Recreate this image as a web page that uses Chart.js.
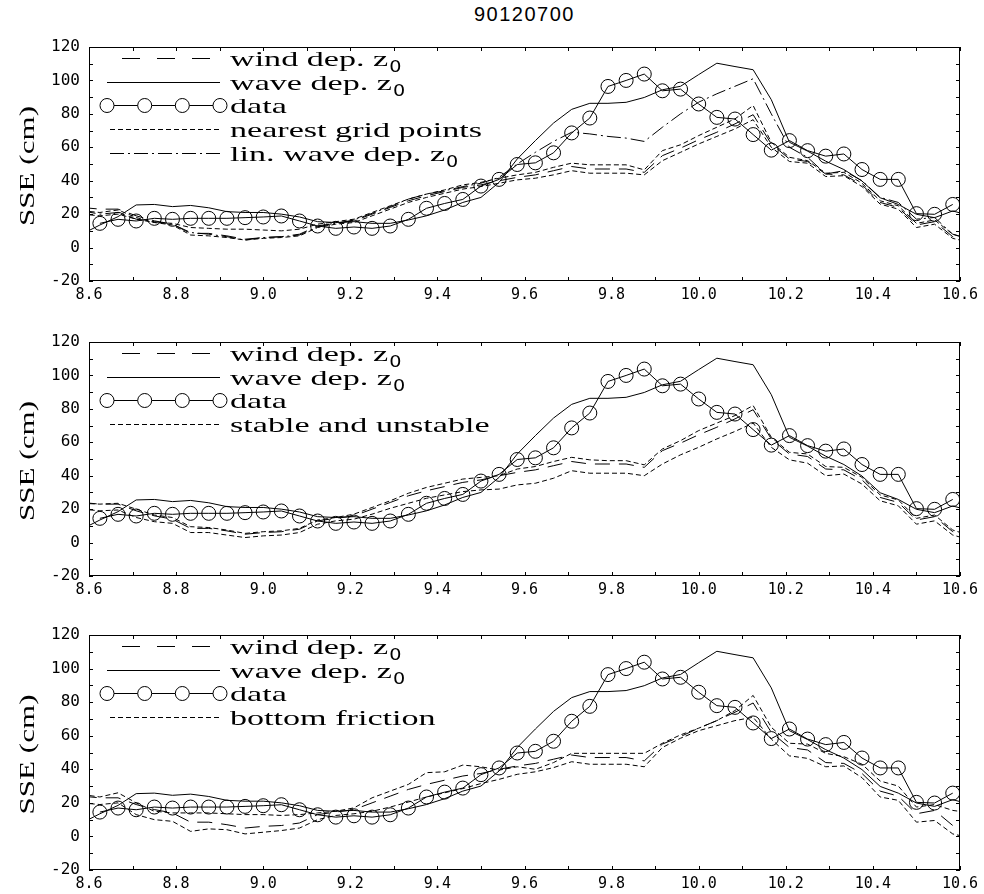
<!DOCTYPE html>
<html lang="en">
<head>
<meta charset="UTF-8">
<title>90120700</title>
<script src="https://cdn.jsdelivr.net/npm/chart.js"></script>
<style>
    body {
        margin: 0;
        background: #fff;
        width: 984px;
        height: 894px;
        overflow: hidden;
        position: relative;
    }
    #title {
        position: absolute;
        left: 89px;
        width: 871px;
        top: 3px;
        text-align: center;
        font: 20px 'Liberation Sans', sans-serif;
        letter-spacing: 1.5px;
        color: #000;
    }
    canvas {
        position: absolute;
        left: 0;
    }
</style>
</head>
<body>
<div id="title">90120700</div>
<canvas id="c1" width="984" height="300" style="top:0px"></canvas>
<canvas id="c2" width="984" height="300" style="top:295px"></canvas>
<canvas id="c3" width="984" height="306" style="top:588px"></canvas>

<script>
// hourly model output, first value just left of the frame (8.583 .. 10.625)
const firstHour = 8 + 14 / 24;
const modelTimes = [];
for (let i = 0; i < 50; i++) modelTimes.push(firstHour + i / 24);
const dataTimes = modelTimes.slice(1, 49);

const xTicks = { min: 8.6, max: 10.6, step: 0.2 };
const yTicks = { min: -20, max: 120, step: 20 };

// observed surge (circles)
const observed = [14.5, 16.9, 15.9, 17.5, 16.9, 17.5, 17.5, 17.5, 17.9, 18.3, 18.9, 15.9,
    12.9, 11.5, 12.3, 11.5, 12.9, 16.9, 23.5, 26.4, 28.8, 36.8, 40.8, 49.7,
    50.7, 56.7, 68.6, 77.5, 96.4, 100, 103.8, 93.8, 94.8, 85.9, 77.9, 76.9,
    67.6, 58.3, 64, 58, 54.7, 56, 46.7, 40.8, 40.8, 20.3, 19.9, 25.8];

// runs shared by all three panels
const windDep = [24, 23, 23, 19, 16, 14, 8.5, 8.5, 7, 5, 6, 6.5, 8, 13, 14.5, 16, 20, 24,
    28, 31, 33.5, 36, 37.5, 40, 42, 43.5, 46, 48.5, 47, 47, 47, 45, 55, 59.5, 64.5, 69,
    74, 79.5, 62, 53, 51.5, 44, 43.5, 37.5, 27, 24, 13.5, 15.5, 6.5, 3];
const waveDep = [8, 13.5, 18.5, 25.5, 25.8, 24.5, 25.2, 23.8, 21.5, 21, 21, 20, 18.3, 15.5,
    15, 15.5, 14.5, 14.5, 16.5, 19, 22.5, 27, 30, 39, 53, 64, 74.5, 82.7, 86.3, 86.3,
    86.9, 89.8, 94.4, 96.5, 103.5, 110.3, 108.3, 106.4, 88.5, 63, 57.7, 51.7, 46.7, 39.8,
    29.8, 25.8, 19.9, 17.9, 21.9, 19];

// panel 1
const nearestA = [22, 21, 22.5, 18, 15, 14.5, 12, 11.5, 11, 11, 10.5, 10, 11, 14, 15.5, 17,
    21, 25, 29, 32, 34.5, 37.5, 39, 41.5, 43.5, 45, 48, 50.5, 49.5, 49.5, 49.5, 46.5, 58,
    61.5, 67, 72, 77, 85, 63, 54, 52, 44.5, 45, 38.5, 28, 25, 14.5, 16.5, 8, 4.5];
const nearestB = [20, 19, 20, 17, 15, 13.5, 7.5, 7, 6, 4.5, 5.5, 6, 7, 12, 14, 15, 19, 23,
    27, 30, 32.5, 35, 36.5, 38.5, 40.5, 41.5, 43.5, 46, 44.5, 44.5, 44.5, 43.5, 52, 57, 62,
    66.5, 71, 76.5, 60, 51.5, 50.5, 42.5, 43, 36.5, 26, 23, 12, 14, 5.5, 3];
const linWaveDep = [22, 20, 21, 17, 15.5, 14, 9, 8, 6.5, 4.5, 6, 6.5, 7.5, 12.5, 14.5, 16.5,
    20.5, 24.5, 29, 32, 34, 36.5, 38.5, 42, 50, 57, 63.5, 69, 68, 66.5, 65.5, 63.5, 72, 80,
    87, 92, 96.5, 101, 80, 60, 54, 44, 46, 40, 30, 27, 17, 18, 8, 5];

// panel 2
const stableRun = [23.5, 23, 23.5, 20, 16.5, 15, 9.5, 9, 7.5, 5.5, 6.5, 7, 8.5, 13.5, 15, 17,
    21, 25, 29.5, 33, 35.5, 38, 39, 40, 44, 45.5, 48.5, 51, 49.5, 49, 49, 46.5, 56, 61, 67,
    71.5, 76, 82, 63, 54, 53, 45.5, 45, 39, 28.5, 25.5, 14.5, 16.5, 7.5, 4];
const unstableRun = [20, 19, 19.5, 15, 12.5, 11.5, 6, 6, 4.5, 3, 4, 4.5, 6, 11, 13, 14, 17,
    20.5, 23.5, 26.5, 28.5, 30.5, 31.5, 32, 34.5, 35.5, 38.5, 43, 41.5, 41.5, 41.5, 40, 47,
    52.5, 57, 62, 66.5, 71.5, 57, 49.5, 47.5, 40, 41, 35, 25, 22, 11, 13, 4.5, 1.5];

// panel 3
const frictionA = [25, 23.5, 26, 20, 15, 14, 14, 14, 13.5, 13, 13, 12.5, 13, 14, 15, 17, 23,
    27, 31, 38, 38.5, 42.5, 41.5, 39.5, 41.5, 40, 44, 49.5, 49.5, 49.5, 49.5, 49.5, 55.5,
    60.5, 64.5, 69, 75, 84, 65, 55.5, 55, 49.5, 47.5, 43, 33, 30, 17.5, 19, 15.5, 14];
const frictionB = [20, 19, 20, 13, 10, 9, 3, 4.5, 4, 1.5, 2.5, 3.5, 5, 10, 12.5, 13.5, 15,
    17.5, 20.5, 23.5, 26, 28.5, 31.5, 34, 37, 38.5, 41, 44.5, 43, 43, 43, 41.5, 53, 58.5,
    63, 66, 69, 71, 58, 48, 46.5, 41.5, 42, 35, 23.5, 21.5, 8.5, 9.5, 1.5, -1];

const LONG_DASH = [15, 9];
const SHORT_DASH = [5, 3];
const DASH_DOT = [14, 4, 2, 4];

const SERIF = '22px "Liberation Serif", serif';

function xy(times, vals) {
    return vals.map((v, i) => ({ x: times[i], y: v }));
}

function modelSet(label, vals, dash, legendDash) {
    return {
        label: label,
        data: xy(modelTimes, vals),
        borderColor: '#000',
        borderWidth: 1,
        borderDash: dash,
        legendDash: legendDash || dash,
        pointRadius: 0
    };
}

function baseSets() {
    return [
        modelSet('wind dep. z₀', windDep, LONG_DASH, [18, 17]),
        modelSet('wave dep. z₀', waveDep, []),
        {
            label: 'data',
            data: xy(dataTimes, observed),
            borderColor: '#000',
            borderWidth: 1,
            pointStyle: 'circle',
            pointRadius: 7,
            pointBorderWidth: 1,
            pointBorderColor: '#000',
            pointBackgroundColor: 'rgba(0,0,0,0)',
            isData: true
        }
    ];
}

// the plot fonts are stretched sideways; fit a known string to its width
function stretchFor(ctx, font, sample, width) {
    ctx.save();
    ctx.font = font;
    const w = ctx.measureText(sample).width;
    ctx.restore();
    return width / w;
}

function wideText(ctx, text, x, y, sx) {
    ctx.save();
    ctx.translate(x, y);
    ctx.scale(sx, 1);
    ctx.fillText(text, 0, 0);
    ctx.restore();
    return ctx.measureText(text).width * sx;
}

function drawLabel(ctx, label, x, y, sx) {
    const parts = label.split('₀');
    let cx = x;
    parts.forEach((p, k) => {
        ctx.font = SERIF;
        cx += wideText(ctx, p, cx, y, sx);
        if (k < parts.length - 1) {
            ctx.font = '16px "DejaVu Sans", sans-serif';
            cx += wideText(ctx, '0', cx + 1, y + 6, 1.2) + 1;
        }
    });
}

const panelDecor = {
    id: 'panelDecor',
    afterDatasetsDraw(chart) {
        const { ctx, chartArea: a, scales: { x, y } } = chart;
        ctx.save();
        ctx.strokeStyle = '#000';
        ctx.lineWidth = 1;
        ctx.setLineDash([]);
        ctx.strokeRect(Math.round(a.left) + 0.5, Math.round(a.top) + 0.5,
            Math.round(a.right - a.left) - 1, Math.round(a.bottom - a.top) - 1);
        ctx.beginPath();
        for (let v = 86; v <= 106; v++) {
            const px = Math.round(x.getPixelForValue(v / 10)) + 0.5;
            ctx.moveTo(px, a.top); ctx.lineTo(px, a.top + 4);
            ctx.moveTo(px, a.bottom); ctx.lineTo(px, a.bottom - 4);
        }
        for (let v = -20; v <= 120; v += 10) {
            const py = Math.round(y.getPixelForValue(v)) + 0.5;
            ctx.moveTo(a.left, py); ctx.lineTo(a.left + 4, py);
            ctx.moveTo(a.right, py); ctx.lineTo(a.right - 4, py);
        }
        ctx.stroke();
        ctx.restore();
    },
    afterDraw(chart) {
        const { ctx, chartArea: a } = chart;
        ctx.save();
        ctx.fillStyle = '#000';
        ctx.strokeStyle = '#000';
        ctx.lineWidth = 1;
        ctx.textBaseline = 'alphabetic';

        // legend in the upper left corner
        const sx = stretchFor(ctx, SERIF, 'nearest grid points', 252);
        const seen = [];
        chart.data.datasets.forEach(ds => {
            if (!seen.find(s => s.label === ds.label)) seen.push(ds);
        });
        seen.forEach((ds, k) => {
            const ly = Math.round(a.top + 11 + k * 23.7) + 0.5;
            const x0 = a.left + 18, x1 = a.left + 131;
            if (ds.isData) {
                ctx.setLineDash([]);
                const cxs = [x0, x0 + 37.7, x0 + 75.3, x1];
                ctx.beginPath();
                for (let j = 0; j < cxs.length - 1; j++) {
                    ctx.moveTo(cxs[j] + 7, ly);
                    ctx.lineTo(cxs[j + 1] - 7, ly);
                }
                ctx.stroke();
                cxs.forEach(cx => {
                    ctx.beginPath();
                    ctx.arc(cx, ly, 7, 0, Math.PI * 2);
                    ctx.stroke();
                });
            } else {
                const dash = ds.legendDash || [];
                const start = dash.length ? (dash[0] > 16 ? x0 + 15 : x0 + 3) : x0;
                ctx.setLineDash(dash);
                ctx.beginPath();
                ctx.moveTo(start, ly);
                ctx.lineTo(x1, ly);
                ctx.stroke();
            }
            ctx.setLineDash([]);
            drawLabel(ctx, ds.label, a.left + 141, ly + 7, sx);
        });

        // y axis title
        ctx.font = SERIF;
        const ty = stretchFor(ctx, SERIF, 'SSE (cm)', 120);
        ctx.textAlign = 'center';
        ctx.textBaseline = 'middle';
        ctx.translate(28, (a.top + a.bottom) / 2 + 2);
        ctx.rotate(-Math.PI / 2);
        ctx.scale(ty, 1);
        ctx.fillText('SSE (cm)', 0, 0);
        ctx.restore();
    }
};

Chart.defaults.font.family = '"DejaVu Sans Mono", monospace';
Chart.defaults.color = '#000';

function makePanel(id, plotH, extraSets) {
    const canvas = document.getElementById(id);
    const xAxisH = canvas.height - 47 - plotH;
    return new Chart(canvas.getContext('2d'), {
        type: 'line',
        data: { datasets: baseSets().concat(extraSets) },
        options: {
            responsive: false,
            animation: false,
            events: [],
            layout: { padding: { top: 47, right: 24, left: 0, bottom: 0 } },
            plugins: { legend: { display: false }, tooltip: { enabled: false } },
            scales: {
                x: {
                    type: 'linear',
                    min: xTicks.min,
                    max: xTicks.max,
                    grid: { display: false, drawTicks: false },
                    border: { display: false },
                    ticks: {
                        stepSize: xTicks.step,
                        padding: 5,
                        autoSkip: false,
                        maxRotation: 0,
                        font: { size: 15 },
                        callback: v => Number(v).toFixed(1)
                    },
                    afterFit: s => { s.height = xAxisH; }
                },
                y: {
                    min: yTicks.min,
                    max: yTicks.max,
                    grid: { display: false, drawTicks: false },
                    border: { display: false },
                    ticks: {
                        stepSize: yTicks.step,
                        padding: 9,
                        font: { size: 16 },
                        callback: v => String(v)
                    },
                    afterFit: s => { s.width = 89; }
                }
            }
        },
        plugins: [panelDecor]
    });
}

makePanel('c1', 234, [
    modelSet('nearest grid points', nearestA, SHORT_DASH),
    modelSet('nearest grid points', nearestB, SHORT_DASH),
    modelSet('lin. wave dep. z₀', linWaveDep, DASH_DOT)
]);
makePanel('c2', 234, [
    modelSet('stable and unstable', stableRun, SHORT_DASH),
    modelSet('stable and unstable', unstableRun, SHORT_DASH)
]);
makePanel('c3', 235, [
    modelSet('bottom friction', frictionA, SHORT_DASH),
    modelSet('bottom friction', frictionB, SHORT_DASH)
]);
</script>
</body>
</html>
